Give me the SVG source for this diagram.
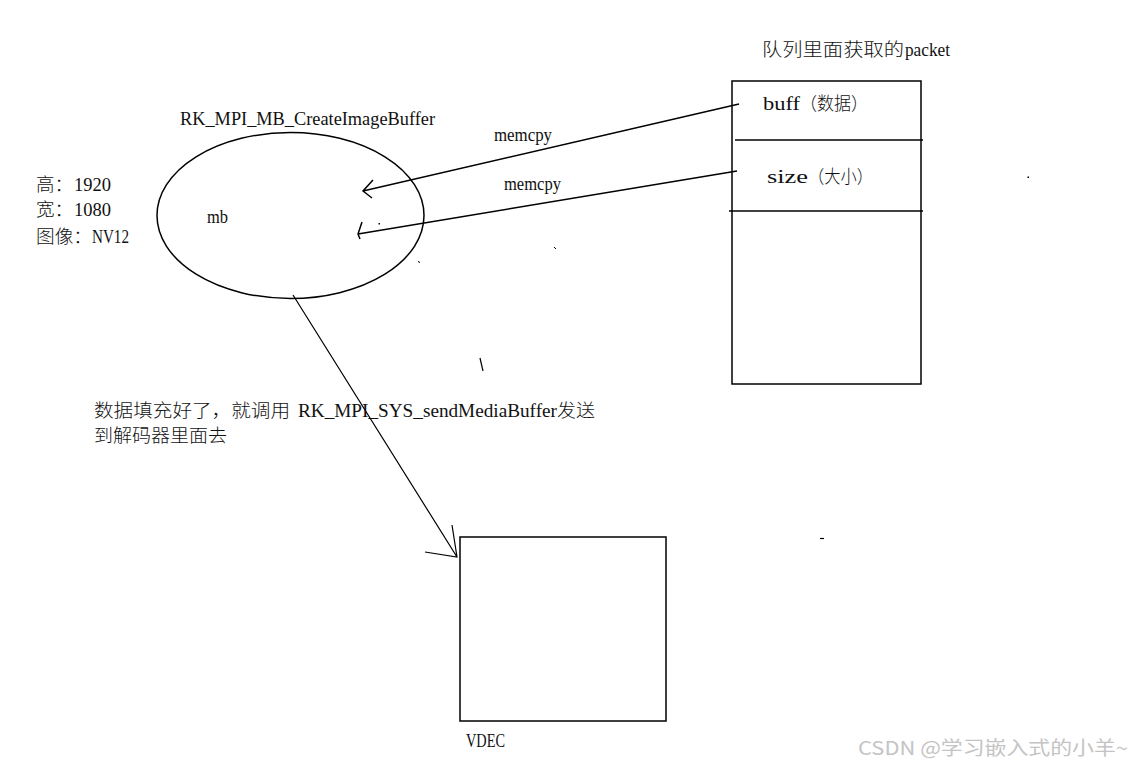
<svg xmlns="http://www.w3.org/2000/svg" width="1132" height="768" viewBox="0 0 1132 768">
<style>
.c{font-family:"Noto Sans CJK SC","Liberation Serif",sans-serif;font-size:18px;font-weight:300;fill:#111}
.l{font-family:"Liberation Serif","Noto Sans CJK SC",serif;font-size:19px;fill:#111}
.s{fill:none;stroke:#000;stroke-width:1.5}
.t{fill:none;stroke:#000;stroke-width:1.2}
.wm{font-family:"Noto Sans CJK SC","Liberation Sans",sans-serif;font-size:19px;fill:#c4c4c4}
</style>
<rect width="1132" height="768" fill="#fff"/>

<g id="mb-node">
  <ellipse class="s" cx="290.5" cy="215.5" rx="133.5" ry="83"/>
  <text class="l" x="180" y="125" textLength="255" lengthAdjust="spacingAndGlyphs">RK_MPI_MB_CreateImageBuffer</text>
  <text class="l" x="207" y="223" textLength="21" lengthAdjust="spacingAndGlyphs">mb</text>
</g>

<g id="mb-props">
  <text class="c" x="36" y="191" textLength="37" lengthAdjust="spacingAndGlyphs">高：</text>
  <text class="l" x="74" y="191" textLength="37" lengthAdjust="spacingAndGlyphs">1920</text>
  <text class="c" x="36" y="216" textLength="37" lengthAdjust="spacingAndGlyphs">宽：</text>
  <text class="l" x="74" y="216" textLength="37" lengthAdjust="spacingAndGlyphs">1080</text>
  <text class="c" x="36" y="243" textLength="56" lengthAdjust="spacingAndGlyphs">图像：</text>
  <text class="l" x="92" y="243" textLength="37" lengthAdjust="spacingAndGlyphs">NV12</text>
</g>

<g id="packet-node">
  <text class="c" x="762" y="56" textLength="142" lengthAdjust="spacingAndGlyphs">队列里面获取的</text>
  <text class="l" x="905" y="56" textLength="45" lengthAdjust="spacingAndGlyphs">packet</text>
  <rect class="s" x="732" y="81" width="189" height="303"/>
  <line class="s" x1="735" y1="140" x2="923" y2="140"/>
  <line class="s" x1="729" y1="211" x2="923" y2="211"/>
  <text class="l" x="763" y="110" textLength="37" lengthAdjust="spacingAndGlyphs">buff</text>
  <text class="c" x="800" y="110" textLength="68" lengthAdjust="spacingAndGlyphs">（数据）</text>
  <text class="l" x="767" y="183" textLength="41" lengthAdjust="spacingAndGlyphs">size</text>
  <text class="c" x="808" y="183" textLength="65" lengthAdjust="spacingAndGlyphs">（大小）</text>
</g>

<g id="vdec-node">
  <rect class="s" x="460" y="537" width="206" height="184"/>
  <text class="l" x="466" y="747" textLength="39" lengthAdjust="spacingAndGlyphs">VDEC</text>
</g>

<g id="connectors">
  <path class="s" d="M739,104 L363,191 M373,180 L363,191 L372,198"/>
  <text class="l" x="494" y="141" textLength="58" lengthAdjust="spacingAndGlyphs">memcpy</text>
  <path class="s" d="M737,171 L358,234 M362,222 L358,234 L360,239"/>
  <text class="l" x="504" y="190" textLength="57" lengthAdjust="spacingAndGlyphs">memcpy</text>
  <path class="t" d="M293,295 L457,557 M452,525 L457,557 L425,552"/>
  <text class="c" x="94" y="417" textLength="196" lengthAdjust="spacingAndGlyphs">数据填充好了，就调用</text>
  <text class="l" x="298" y="417" textLength="259" lengthAdjust="spacingAndGlyphs">RK_MPI_SYS_sendMediaBuffer</text>
  <text class="c" x="557" y="417" textLength="38" lengthAdjust="spacingAndGlyphs">发送</text>
  <text class="c" x="94" y="442" textLength="133" lengthAdjust="spacingAndGlyphs">到解码器里面去</text>
</g>

<g id="marks" fill="#000" stroke="#000">
  <rect x="378.5" y="223" width="1.5" height="1.5" stroke="none"/>
  <line x1="418.5" y1="261" x2="419.5" y2="263" stroke-width="1"/>
  <line x1="554" y1="247" x2="556" y2="249" stroke-width="1"/>
  <rect x="1027.5" y="176.5" width="1.5" height="1.5" stroke="none"/>
  <line x1="820" y1="538.5" x2="824" y2="538.5" stroke-width="1.2"/>
  <line x1="480" y1="358" x2="483" y2="371" stroke-width="1.2"/>
</g>

<text class="wm" x="858" y="755" textLength="270" lengthAdjust="spacingAndGlyphs">CSDN @学习嵌入式的小羊~</text>
</svg>
